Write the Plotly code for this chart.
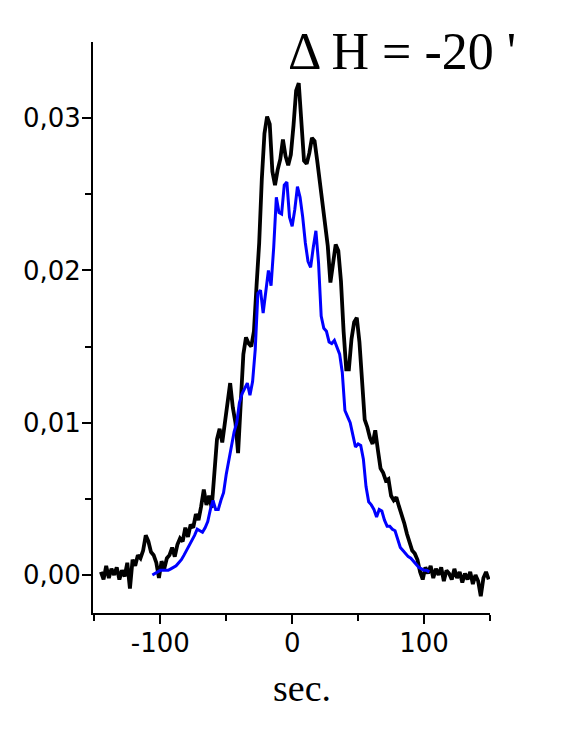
import plotly.graph_objects as go

# ---- data ----
black_x = list(range(-145, 150, 2))
black_y = [
    0.0002, -0.0003, 0.0006, -0.0002, 0.0004, 0.0000, 0.0005, -0.0003, 0.0003, -0.0001,
    0.0008, -0.0009, 0.0010, 0.0006, 0.0013, 0.0011, 0.0016, 0.0026, 0.0022, 0.0015,
    0.0013, 0.0008, -0.0002, 0.0009, 0.0004, 0.0011, 0.0013, 0.0018, 0.0012, 0.0020,
    0.0024, 0.0022, 0.0031, 0.0025, 0.0033, 0.0031, 0.0040, 0.0036, 0.0045, 0.0056,
    0.0046, 0.0052, 0.0044, 0.0068, 0.0089, 0.0096, 0.0087, 0.0100, 0.0112, 0.0126,
    0.0110, 0.0100, 0.0080, 0.0115, 0.0145, 0.0156, 0.0152, 0.0150, 0.0160, 0.0190,
    0.0218, 0.0260, 0.0290, 0.0301, 0.0296, 0.0265, 0.0256, 0.0266, 0.0273, 0.0286,
    0.0275, 0.0269, 0.0276, 0.0295, 0.0318, 0.0323, 0.0298, 0.0272, 0.0270, 0.0277,
    0.0287, 0.0285, 0.0272, 0.0257, 0.0244, 0.0232, 0.0216, 0.0192, 0.0207, 0.0217,
    0.0213, 0.0193, 0.0160, 0.0135, 0.0135, 0.0155, 0.0166, 0.0169, 0.0153, 0.0128,
    0.0102, 0.0097, 0.0090, 0.0086, 0.0095, 0.0082, 0.0070, 0.0067, 0.0062, 0.0063,
    0.0052, 0.0049, 0.0051, 0.0045, 0.0040, 0.0034, 0.0027, 0.0021, 0.0016, 0.0014,
    0.0010, 0.0002, -0.0003, 0.0005, 0.0001, 0.0006, -0.0002, 0.0004, 0.0000, 0.0005,
    -0.0004, 0.0003, 0.0001, -0.0003, 0.0004, -0.0002, 0.0002, -0.0005, 0.0001, -0.0003,
    0.0002, -0.0006, 0.0000, -0.0004, -0.0014, -0.0002, 0.0002, -0.0003,
]

blue_x = list(range(-106, 105, 2))
blue_y = [
    0.0000, 0.0001, 0.0002, 0.0003, 0.0003, 0.0003, 0.0003, 0.0004, 0.0005, 0.0006,
    0.0008, 0.0010, 0.0013, 0.0016, 0.0019, 0.0022, 0.0026, 0.0030, 0.0029, 0.0028,
    0.0031, 0.0035, 0.0043, 0.0049, 0.0043, 0.0043, 0.0049, 0.0054, 0.0066, 0.0076,
    0.0084, 0.0094, 0.0100, 0.0113, 0.0119, 0.0123, 0.0126, 0.0118, 0.0127, 0.0148,
    0.0185, 0.0187, 0.0172, 0.0186, 0.0200, 0.0190, 0.0215, 0.0248, 0.0238, 0.0237,
    0.0256, 0.0258, 0.0235, 0.0229, 0.0240, 0.0255, 0.0248, 0.0235, 0.0218, 0.0206,
    0.0202, 0.0215, 0.0226, 0.0205, 0.0170, 0.0162, 0.0160, 0.0153, 0.0152, 0.0154,
    0.0150, 0.0145, 0.0133, 0.0108, 0.0104, 0.0100, 0.0092, 0.0084, 0.0086, 0.0085,
    0.0076, 0.0058, 0.0048, 0.0046, 0.0043, 0.0038, 0.0043, 0.0042, 0.0036, 0.0032,
    0.0032, 0.0030, 0.0029, 0.0023, 0.0018, 0.0016, 0.0014, 0.0012, 0.0011, 0.0009,
    0.0007, 0.0005, 0.0004, 0.0003, 0.0003, 0.0002,
]

x_tick_vals = [-100, 0, 100]
x_tick_text = ["-100", "0", "100"]
x_minor_vals = [-150, -50, 50, 150]
y_tick_vals = [0.0, 0.01, 0.02, 0.03]
y_tick_text = ["0,00", "0,01", "0,02", "0,03"]
y_minor_vals = [0.005, 0.015, 0.025]

title_text = "\u0394 H = -20 '"
x_label = "sec."

fig = go.Figure()
fig.add_trace(go.Scatter(x=black_x, y=black_y, mode="lines",
                         line=dict(color="#000000", width=3.8), showlegend=False))
fig.add_trace(go.Scatter(x=blue_x, y=blue_y, mode="lines",
                         line=dict(color="#0000ff", width=3), showlegend=False))

tick_font = dict(family="DejaVu Sans", size=26, color="#000000")

fig.update_layout(
    width=564, height=732,
    margin=dict(l=85, r=82, t=34, b=127),
    paper_bgcolor="white", plot_bgcolor="white",
    showlegend=False,
    xaxis=dict(
        range=[-151, 150], showgrid=False, zeroline=False,
        showline=True, linecolor="#000000", linewidth=2,
        ticks="outside", ticklen=9, tickwidth=2, tickcolor="#000000",
        tickvals=x_tick_vals, ticktext=x_tick_text, tickfont=tick_font,
        ticklabelstandoff=-3,
        minor=dict(tickvals=x_minor_vals, ticks="outside", ticklen=6,
                   tickwidth=2, tickcolor="#000000", showgrid=False),
    ),
    yaxis=dict(
        range=[-0.0025, 0.035], showgrid=False, zeroline=False,
        showline=True, linecolor="#000000", linewidth=2,
        ticks="outside", ticklen=9, tickwidth=2, tickcolor="#000000",
        tickvals=y_tick_vals, ticktext=y_tick_text, tickfont=tick_font,
        ticklabelstandoff=-4,
        minor=dict(tickvals=y_minor_vals, ticks="outside", ticklen=6,
                   tickwidth=2, tickcolor="#000000", showgrid=False),
    ),
    annotations=[
        dict(text=title_text, xref="paper", yref="paper", x=0.486, y=0.983,
             xanchor="left", yanchor="middle", showarrow=False,
             font=dict(family="Liberation Serif", size=52, color="#000000")),
        dict(text=x_label, xref="paper", yref="paper", x=0.527, y=-0.131,
             xanchor="center", yanchor="middle", showarrow=False,
             font=dict(family="Liberation Serif", size=38, color="#000000")),
    ],
)

fig.write_html("out.html")
